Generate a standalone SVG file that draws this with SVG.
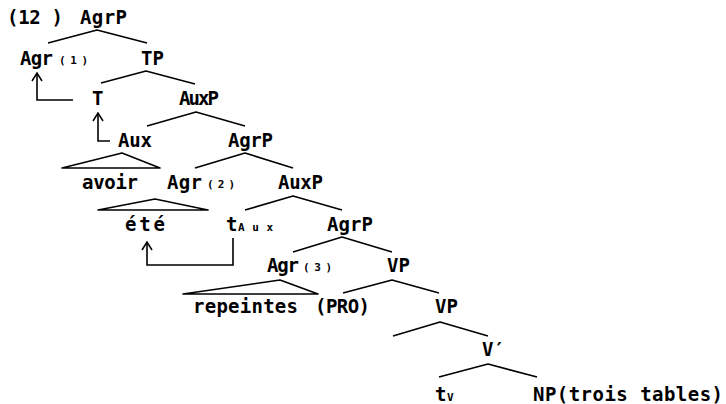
<svg xmlns="http://www.w3.org/2000/svg" width="726" height="404" viewBox="0 0 726 404">
  <style>
    .lbl { font-family: "DejaVu Sans Mono", "Liberation Mono", monospace; font-size: 19px; font-weight: bold; fill: #000; }
    .sub { font-family: "DejaVu Sans Mono", "Liberation Mono", monospace; font-size: 11px; font-weight: bold; fill: #000; }
    .br { fill: none; stroke: #000; stroke-width: 1.6; stroke-linejoin: round; }
    .arr { fill: none; stroke: #000; stroke-width: 1.6; }
  </style>
  <defs>
    <!-- open arrowhead, drawn along +x so orient="auto" follows the path -->
    <marker id="head" viewBox="0 0 10 12" refX="9" refY="6" markerWidth="10" markerHeight="12" markerUnits="userSpaceOnUse" orient="auto">
      <path d="M1,1 L9,6 L1,11" fill="none" stroke="#000" stroke-width="1.5"/>
    </marker>
  </defs>

  <rect width="726" height="404" fill="#fff"/>

  <!-- example number -->
  <text class="lbl" x="7" y="24" textLength="56" lengthAdjust="spacing">(12 )</text>

  <!-- tree nodes -->
  <g id="agrp1"><text class="lbl" x="80" y="24" textLength="47" lengthAdjust="spacing">AgrP</text></g>
  <g id="agr1"><text class="lbl" x="20" y="65" textLength="33" lengthAdjust="spacing">Agr</text><text class="sub" x="59" y="64" textLength="29" lengthAdjust="spacing">(1)</text></g>
  <g id="tp"><text class="lbl" x="141" y="65" textLength="23" lengthAdjust="spacing">TP</text></g>
  <g id="t"><text class="lbl" x="92" y="105">T</text></g>
  <g id="auxp1"><text class="lbl" x="179" y="105" textLength="40" lengthAdjust="spacing">AuxP</text></g>
  <g id="aux"><text class="lbl" x="118" y="147" textLength="34" lengthAdjust="spacing">Aux</text></g>
  <g id="agrp2"><text class="lbl" x="228" y="147" textLength="45" lengthAdjust="spacing">AgrP</text></g>
  <g id="avoir"><text class="lbl" x="82" y="189" textLength="56" lengthAdjust="spacing">avoir</text></g>
  <g id="agr2"><text class="lbl" x="167" y="189" textLength="35" lengthAdjust="spacing">Agr</text><text class="sub" x="207" y="188" textLength="28" lengthAdjust="spacing">(2)</text></g>
  <g id="auxp2"><text class="lbl" x="278" y="189" textLength="45" lengthAdjust="spacing">AuxP</text></g>
  <g id="ete"><text class="lbl" x="125" y="231" textLength="40" lengthAdjust="spacing">été</text></g>
  <g id="taux"><text class="lbl" x="226" y="231">t</text><text class="sub" x="238" y="231" textLength="35" lengthAdjust="spacing">Aux</text></g>
  <g id="agrp3"><text class="lbl" x="327" y="231" textLength="46" lengthAdjust="spacing">AgrP</text></g>
  <g id="agr3"><text class="lbl" x="267" y="272" textLength="32" lengthAdjust="spacing">Agr</text><text class="sub" x="303" y="271" textLength="29" lengthAdjust="spacing">(3)</text></g>
  <g id="vp1"><text class="lbl" x="387" y="272" textLength="23" lengthAdjust="spacing">VP</text></g>
  <g id="repeintes"><text class="lbl" x="193" y="313" textLength="105" lengthAdjust="spacing">repeintes</text></g>
  <g id="pro"><text class="lbl" x="315" y="313" textLength="55" lengthAdjust="spacing">(PRO)</text></g>
  <g id="vp2"><text class="lbl" x="435" y="313" textLength="23" lengthAdjust="spacing">VP</text></g>
  <g id="vbar"><text class="lbl" x="482" y="356">V′</text></g>
  <g id="tv"><text class="lbl" x="435" y="401">t</text><text class="sub" x="447" y="401">V</text></g>
  <g id="np"><text class="lbl" x="533" y="401" textLength="190" lengthAdjust="spacing">NP(trois tables)</text></g>

  <!-- branches, triangles and movement arrows -->
  <g id="connectors">
    <polyline class="br" points="48,43 97,30 147,43"/>
    <polyline class="br" points="101,83 146,71 195,84"/>
    <polyline class="br" points="147,126 196,112 245,126"/>
    <polyline class="br" points="195,168 245,153 293,168"/>
    <polygon class="br" points="62,168 122,153 160,168"/>
    <polyline class="br" points="245,210 293,196 342,210"/>
    <polygon class="br" points="98,210 155,199 208,210"/>
    <polyline class="br" points="293,252 342,237 392,252"/>
    <polygon class="br" points="183,294 280,280 318,294"/>
    <polyline class="br" points="343,293 392,280 439,293"/>
    <polyline class="br" points="393,336 440,322 488,336"/>
    <polyline class="br" points="439,377 488,364 537,377"/>

    <path class="arr" d="M73,100 H37 V73" marker-end="url(#head)"/>
    <path class="arr" d="M110,141 H98 V113" marker-end="url(#head)"/>
    <path class="arr" d="M233,238 V265 H147 V242" marker-end="url(#head)"/>
  </g>
</svg>
